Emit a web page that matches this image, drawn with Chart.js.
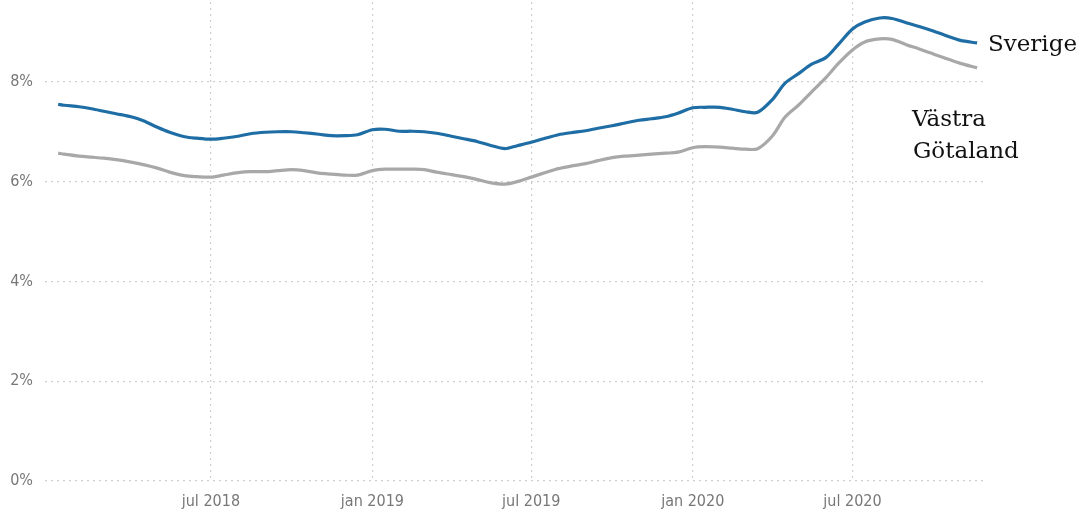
<!DOCTYPE html>
<html>
<head>
<meta charset="utf-8">
<script src="https://cdn.jsdelivr.net/npm/chart.js@4"></script>
<style>
  body { margin: 0; background: #fff; }
  #wrap { position: relative; width: 1079px; height: 515px; }
</style>
</head>
<body>
<div id="wrap"><canvas id="chart"></canvas></div>
<script>
// halvmånadsvisa avläsningar (arbetslöshet, %)
const dates = [
    '2018-01-08', '2018-01-15', '2018-02-01', '2018-02-15', '2018-03-01', '2018-03-15',
    '2018-04-01', '2018-04-15', '2018-05-01', '2018-05-15', '2018-06-01', '2018-06-15',
    '2018-07-01', '2018-07-15', '2018-08-01', '2018-08-15', '2018-09-01', '2018-09-15',
    '2018-10-01', '2018-10-15', '2018-11-01', '2018-11-15', '2018-12-01', '2018-12-15',
    '2019-01-01', '2019-01-15', '2019-02-01', '2019-02-15', '2019-03-01', '2019-03-15',
    '2019-04-01', '2019-04-15', '2019-05-01', '2019-05-15', '2019-06-01', '2019-06-15',
    '2019-07-01', '2019-07-15', '2019-08-01', '2019-08-15', '2019-09-01', '2019-09-15',
    '2019-10-01', '2019-10-15', '2019-11-01', '2019-11-15', '2019-12-01', '2019-12-15',
    '2020-01-01', '2020-01-15', '2020-02-01', '2020-02-15', '2020-03-01', '2020-03-15',
    '2020-04-01', '2020-04-15', '2020-05-01', '2020-05-15', '2020-06-01', '2020-06-15',
    '2020-07-01', '2020-07-15', '2020-08-01', '2020-08-15', '2020-09-01', '2020-09-15',
    '2020-10-01', '2020-10-15', '2020-11-01', '2020-11-20'
];

const sverige = [
    7.55, 7.53, 7.50, 7.46, 7.41, 7.36, 7.30, 7.22, 7.09, 6.99, 6.90, 6.87,
    6.85, 6.87, 6.91, 6.96, 6.99, 7.00, 7.00, 6.98, 6.95, 6.92, 6.92, 6.94,
    7.04, 7.05, 7.01, 7.01, 7.00, 6.97, 6.91, 6.86, 6.80, 6.73, 6.66, 6.72,
    6.79, 6.86, 6.94, 6.98, 7.02, 7.07, 7.12, 7.17, 7.23, 7.26, 7.30, 7.37,
    7.48, 7.49, 7.49, 7.45, 7.40, 7.39, 7.65, 7.97, 8.17, 8.35, 8.49, 8.75,
    9.06, 9.20, 9.28, 9.27, 9.18, 9.11, 9.02, 8.93, 8.83, 8.78
];

const vastraGotaland = [
    6.57, 6.55, 6.51, 6.49, 6.47, 6.44, 6.39, 6.34, 6.27, 6.19, 6.12, 6.10,
    6.09, 6.13, 6.18, 6.20, 6.20, 6.22, 6.24, 6.22, 6.17, 6.15, 6.13, 6.13,
    6.22, 6.25, 6.25, 6.25, 6.24, 6.19, 6.14, 6.10, 6.04, 5.98, 5.95, 6.00,
    6.09, 6.17, 6.26, 6.31, 6.36, 6.42, 6.48, 6.51, 6.53, 6.55, 6.57, 6.59,
    6.68, 6.70, 6.69, 6.67, 6.65, 6.66, 6.92, 7.29, 7.54, 7.79, 8.09, 8.37,
    8.64, 8.80, 8.86, 8.85, 8.74, 8.66, 8.56, 8.47, 8.37, 8.28
];

const tickDates = ['2018-07-01', '2019-01-01', '2019-07-01', '2020-01-01', '2020-07-01'];
const tickLabels = ['jul 2018', 'jan 2019', 'jul 2019', 'jan 2020', 'jul 2020'];
const yTicks = [0, 2, 4, 6, 8];

// datum -> dagnummer, så att en linjär x-axel kan användas utan datumadapter
const toDay = d => Date.parse(d + 'T00:00:00Z') / 86400000;

const gridStyle = { color: '#cfcfcf', lineWidth: 1.2, drawTicks: false };
const tickFont = { family: "'DejaVu Sans Condensed', sans-serif", size: 16 };

// serieetiketter till höger om linjerna
const seriesLabels = {
    id: 'seriesLabels',
    afterDraw(chart) {
        const ctx = chart.ctx;
        const r = chart.chartArea.right;
        ctx.save();
        ctx.fillStyle = '#111';
        ctx.font = "23px 'DejaVu Serif', serif";
        ctx.textBaseline = 'alphabetic';
        ctx.fillText('Sverige', r + 3, 51);
        ctx.fillText('Västra', r - 73, 126);
        ctx.fillText('Götaland', r - 72, 158);
        ctx.restore();
    }
};

new Chart(document.getElementById('chart').getContext('2d'), {
    type: 'line',
    data: {
        datasets: [
            {
                label: 'Sverige',
                data: dates.map((d, i) => ({ x: toDay(d), y: sverige[i] })),
                borderColor: '#1f6da5',
                borderWidth: 3.2,
                pointRadius: 0,
                tension: 0.3
            },
            {
                label: 'Västra Götaland',
                data: dates.map((d, i) => ({ x: toDay(d), y: vastraGotaland[i] })),
                borderColor: '#a8a8a8',
                borderWidth: 3.2,
                pointRadius: 0,
                tension: 0.3
            }
        ]
    },
    options: {
        responsive: true,
        maintainAspectRatio: false,
        animation: false,
        layout: { autoPadding: false, padding: { top: 2, right: 94, left: 0, bottom: 0 } },
        plugins: {
            legend: { display: false },
            tooltip: { enabled: false }
        },
        scales: {
            x: {
                type: 'linear',
                min: toDay('2017-12-24'),
                max: toDay('2020-11-29'),
                grid: gridStyle,
                border: { display: false, dash: [2, 4] },
                afterBuildTicks: scale => {
                    scale.ticks = tickDates.map(d => ({ value: toDay(d) }));
                },
                afterFit: scale => {
                    scale.height = 34;
                    scale.paddingLeft = 0;
                    scale.paddingRight = 0;
                },
                ticks: {
                    autoSkip: false,
                    maxRotation: 0,
                    padding: 11,
                    color: '#777',
                    font: tickFont,
                    callback: (v, i) => tickLabels[i]
                }
            },
            y: {
                min: 0,
                max: 9.6,
                grid: gridStyle,
                border: { display: false, dash: [2, 4] },
                afterBuildTicks: scale => {
                    scale.ticks = yTicks.map(v => ({ value: v }));
                },
                afterFit: scale => {
                    scale.width = 45;
                    scale.paddingTop = 0;
                    scale.paddingBottom = 0;
                },
                ticks: {
                    padding: 12,
                    color: '#777',
                    font: tickFont,
                    callback: v => v + '%'
                }
            }
        }
    },
    plugins: [seriesLabels]
});
</script>
</body>
</html>
